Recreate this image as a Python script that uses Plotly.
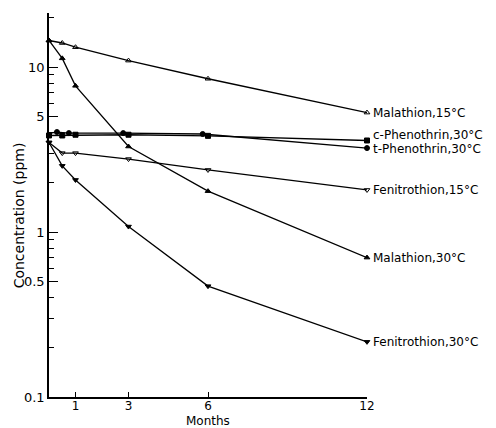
import math
import plotly.graph_objects as go

months = [0, 0.5, 1, 3, 6, 12]
t_phen_months = [-0.2, 0.3, 0.75, 2.8, 5.8, 12]

malathion_15 = [14.5, 14.0, 13.2, 10.95, 8.5, 5.3]
malathion_30 = [14.5, 11.3, 7.7, 3.3, 1.77, 0.70]
c_phenothrin_30 = [3.85, 3.85, 3.89, 3.89, 3.83, 3.59]
t_phenothrin_30 = [3.93, 4.04, 3.98, 3.98, 3.93, 3.23]
fenitrothion_15 = [3.49, 3.01, 3.01, 2.77, 2.38, 1.80]
fenitrothion_30 = [3.49, 2.52, 2.07, 1.08, 0.47, 0.216]

series = [
    ("Malathion,15°C", months, malathion_15, "triangle-up-open", 0),
    ("Malathion,30°C", months, malathion_30, "triangle-up", 0),
    ("c-Phenothrin,30°C", months, c_phenothrin_30, "square", 5),
    ("t-Phenothrin,30°C", t_phen_months, t_phenothrin_30, "circle", -1),
    ("Fenitrothion,15°C", months, fenitrothion_15, "triangle-down-open", 0),
    ("Fenitrothion,30°C", months, fenitrothion_30, "triangle-down", 0),
]

y_major = [0.1, 0.5, 1, 5, 10]
y_major_text = ["0.1", "0.5", "1", "5", "10"]
y_minor = [0.2, 0.3, 0.4, 0.6, 0.7, 0.8, 0.9, 2, 3, 4, 6, 7, 8, 9, 20]
x_ticks = [1, 3, 6, 12]

FONT = "DejaVu Sans"

fig = go.Figure()
for name, xs, ys, sym, dy in series:
    fig.add_trace(go.Scatter(
        x=xs, y=ys, mode="lines+markers", name=name,
        line=dict(color="black", width=1.3),
        marker=dict(symbol=sym, size=5, color="black",
                    line=dict(color="black", width=1)),
        cliponaxis=False, showlegend=False,
    ))
    fig.add_annotation(x=xs[-1], y=math.log10(ys[-1]), yref="y", xref="x",
                       text=name, showarrow=False, xanchor="left",
                       xshift=4, yshift=dy,
                       font=dict(family=FONT, size=12, color="black"))

# axis titles
fig.add_annotation(x=6, xref="x", y=0, yref="paper", yshift=-24,
                   text="Months", showarrow=False, yanchor="middle",
                   font=dict(family=FONT, size=12, color="black"))
fig.add_annotation(x=0, xref="paper", xshift=-30, y=0.473, yref="paper",
                   text="Concentration (ppm)", textangle=-90,
                   showarrow=False, xanchor="center", yanchor="middle",
                   font=dict(family=FONT, size=14, color="black"))

fig.update_layout(
    width=488, height=420,
    margin=dict(l=41, r=129, t=5, b=31),
    plot_bgcolor="white", paper_bgcolor="white",
    font=dict(family=FONT, size=13, color="black"),
)
fig.update_xaxes(
    range=[0, 12], showline=True, linecolor="black", linewidth=1.5,
    showgrid=False, zeroline=False, tickvals=x_ticks, automargin=False,
    ticks="inside", ticklen=5, tickwidth=1.2, tickcolor="black",
    tickfont=dict(size=12), ticklabelstandoff=-3,
)
fig.update_yaxes(
    type="log", range=[-1, 1.328], showline=True, linecolor="black",
    linewidth=1.5, showgrid=False, zeroline=False, automargin=False,
    tickvals=y_major, ticktext=y_major_text,
    ticks="inside", ticklen=9, tickwidth=1.2, tickcolor="black",
    minor=dict(tickvals=y_minor, ticks="inside", ticklen=5,
               tickwidth=1.2, tickcolor="black", showgrid=False),
)

fig.write_html("out.html")
